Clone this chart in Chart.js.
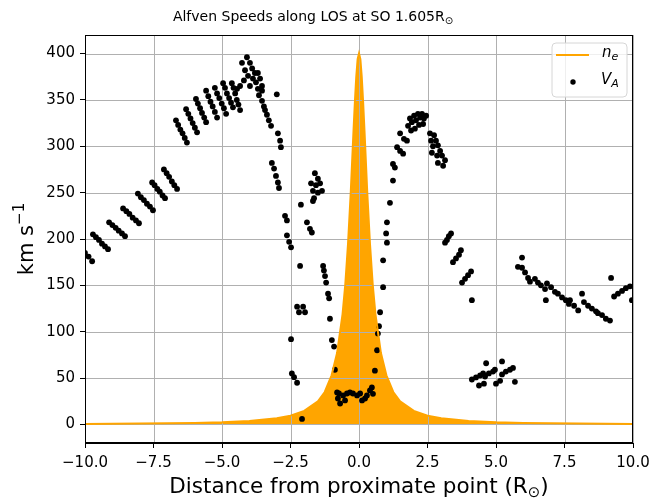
<!DOCTYPE html>
<html>
<head>
<meta charset="utf-8">
<script src="https://cdn.jsdelivr.net/npm/chart.js@4.4.0/dist/chart.umd.min.js"></script>
<style>
  html, body { margin: 0; padding: 0; background: #fff; }
  #wrap { width: 652px; height: 501px; }
</style>
</head>
<body>
<div id="wrap"><canvas id="myChart" width="652" height="501"></canvas></div>
<script>
// electron density profile along the line of sight (drawn filled, peak at proximate point)
const neX = [-10, -8, -6, -5, -4, -3, -2.5, -2, -1.5, -1.25, -1, -0.8, -0.6, -0.5, -0.4, -0.3, -0.2, -0.15, -0.1, -0.05, 0,
             0.05, 0.1, 0.15, 0.2, 0.3, 0.4, 0.5, 0.6, 0.8, 1, 1.25, 1.5, 2, 2.5, 3, 4, 5, 6, 8, 10];
const neY = [0.6, 1, 1.7, 2.4, 3.8, 6.6, 9.5, 14.7, 25, 35, 53, 77, 119, 151, 195, 251, 317, 348, 375, 394, 400,
             394, 375, 348, 317, 251, 195, 151, 119, 77, 53, 35, 25, 14.7, 9.5, 6.6, 3.8, 2.4, 1.7, 1, 0.6];

// Alfven speed samples (km/s)
const vaX = [
  -10.0, -9.87, -9.74,
  -9.71, -9.6, -9.49, -9.38, -9.27, -9.16,
  -9.12, -9.0, -8.88, -8.77, -8.65, -8.54,
  -8.61, -8.49, -8.38, -8.26, -8.14, -8.03,
  -8.07, -7.96, -7.85, -7.74, -7.63, -7.52,
  -7.55, -7.46, -7.36, -7.27, -7.17, -7.08,
  -7.12, -7.02, -6.93, -6.83, -6.74, -6.64,
  -6.68, -6.6, -6.52, -6.44, -6.36, -6.28,
  -6.31, -6.23, -6.15, -6.07, -5.99, -5.91,
  -5.95, -5.88, -5.8, -5.73, -5.65, -5.58,
  -5.58, -5.5, -5.42, -5.34, -5.26, -5.18,
  -5.26, -5.18, -5.1, -5.01, -4.93, -4.85,
  -4.96, -4.89, -4.82, -4.74, -4.67, -4.6,
  -4.64, -4.58, -4.52, -4.46, -4.4, -4.34,
  -4.09, -4.27, -3.98, -4.16, -3.9, -3.8, -3.69, -4.05, -3.87, -3.61, -4.2, -3.76, -3.54, -3.98, -3.69, -4.34, -3.54, -3.65, -4.45,
  -3.54, -3.47, -3.43, -3.36, -3.29, -3.21,
  -3.0, -2.96, -2.88, -2.85,
  -3.18, -3.1, -3.03, -2.96, -2.92,
  -2.7, -2.63, -2.63, -2.55, -2.48, -2.15, -2.48, -2.45, -2.37, -2.26, -2.08,
  -2.26, -2.19, -2.04, -1.97,
  -2.12, -1.9, -1.79, -1.72,
  -1.61, -1.5, -1.75, -1.57, -1.42, -1.68, -1.5, -1.35, -1.64, -1.68,
  -1.31, -1.28, -1.24, -1.2, -1.13, -1.09, -1.06, -0.99, -0.91, -0.88,
  -0.8, -0.77, -0.69, -0.58, -0.44, -0.33, -0.22, -0.07, 0.04, 0.11, 0.22, 0.29, 0.4, 0.47, -0.73, -0.51,
  0.51, 0.58, 0.66, 0.69, 0.73, 0.77, 0.88, 0.88, 1.02, 0.99, 1.02, 1.13, 1.24, 1.31,
  1.24, 1.39, 1.5, 1.61, 1.5, 1.64, 1.75,
  1.79, 1.86, 1.93, 2.01, 2.08, 2.15, 2.23, 2.3, 2.37, 2.45, 2.04, 2.19, 2.34, 1.9,
  2.59, 2.74, 2.63, 2.81, 2.7, 2.88, 2.66, 2.96, 2.85, 3.03, 2.88, 3.14, 3.07,
  3.14, 3.21, 3.28, 3.36,
  3.43, 3.54, 3.65, 3.72,
  3.76, 3.87, 3.98, 4.09,
  4.12,
  4.12, 4.27, 4.42, 4.53, 4.38, 4.56,
  4.6, 4.74, 4.89, 4.96, 4.64,
  5.0, 5.15,
  5.22, 5.36, 5.51, 5.62, 5.22, 5.69,
  5.95, 5.8,
  5.95, 6.06, 6.17, 6.24,
  6.42, 6.53, 6.64, 6.79,
  6.86, 7.01, 7.15, 6.82,
  7.26, 7.41, 7.55, 7.66,
  7.7, 7.85, 8.0, 8.14,
  8.21, 8.36, 8.5, 8.65,
  8.72, 8.87, 9.01, 9.16,
  9.2,
  9.31, 9.45, 9.6, 9.74, 9.89,
  9.96
];
const vaY = [
  185, 181, 176,
  205, 202, 199, 195, 192, 189,
  218, 215, 212, 209, 206, 203,
  233, 230, 227, 223, 220, 217,
  249, 245, 242, 238, 235, 231,
  261, 258, 254, 251, 247, 244,
  275, 271, 267, 262, 258, 254,
  328, 323, 318, 314, 309, 304,
  340, 335, 330, 325, 320, 315,
  351, 346, 341, 336, 331, 326,
  360, 354, 348, 343, 337, 331,
  363, 357, 352, 346, 341, 335,
  368, 363, 357, 352, 347, 342,
  368, 363, 357, 350, 345, 339,
  396, 390, 390, 382, 384, 379, 379, 376, 373, 373, 371, 369, 365, 365, 362, 365, 360, 355, 362,
  349, 343, 339, 334, 328, 322,
  356, 314, 306, 299,
  282, 276, 268, 261, 255,
  225, 220, 204, 197, 191, 171, 92, 55, 51, 45, 6,
  127, 121, 127, 121,
  237, 218, 211, 207,
  271, 265, 260, 258, 260, 252, 250, 252, 244, 241,
  171, 166, 160, 153, 141, 136, 114, 91, 84, 59,
  34.5, 28, 22.6, 31.3, 33.4, 34.5, 33.4, 31.3, 33.4, 25.9, 28, 31.3, 36.7, 39.9, 33.4, 25.9,
  33, 58, 80, 98, 106, 121, 148, 177, 196, 206, 218, 239, 263, 277,
  281, 299, 295, 292, 314, 308, 306,
  322, 330, 326, 333, 328, 335, 331, 335, 330, 333, 319, 323, 324, 317,
  314, 312, 306, 306, 300, 301, 293, 295, 290, 290, 282, 285, 279,
  196, 199, 203, 206,
  175, 179, 183, 188,
  153, 157, 161, 165,
  134,
  48.5, 50.7, 52.8, 55, 42, 44,
  51.7, 55, 57, 59, 66,
  44, 47,
  54, 57, 59, 61, 68, 46,
  180, 170,
  169, 164, 158, 154,
  157, 153, 150, 146,
  152, 148, 143, 134,
  141, 137, 134, 130,
  134, 128, 123, 141,
  132, 128, 125, 122,
  120, 118, 114, 112,
  158,
  138, 141, 144, 147, 149,
  134
];

const xTicks = [-10, -7.5, -5, -2.5, 0, 2.5, 5, 7.5, 10];
const yTicks = [0, 50, 100, 150, 200, 250, 300, 350, 400];

const FONT = "'DejaVu Sans', sans-serif";
const ORANGE = '#ffa500';

Chart.defaults.font.family = FONT;
Chart.defaults.color = '#000';

const nePoints = neX.map((x, i) => ({ x: x, y: neY[i] }));
const vaPoints = vaX.map((x, i) => ({ x: x, y: vaY[i] }));

function fmtTick(v, digits) {
    return v.toFixed(digits).replace('-', '\u2212');
}

// text with a smaller lowered/raised part, e.g. R + sub(⊙)
function drawRich(ctx, parts, x, y, align) {
    let total = 0;
    parts.forEach(p => {
        ctx.font = p.font;
        total += ctx.measureText(p.text).width;
    });
    let cx = align === 'center' ? x - total / 2 : x;
    parts.forEach(p => {
        ctx.font = p.font;
        ctx.fillText(p.text, cx, y + (p.dy || 0));
        cx += ctx.measureText(p.text).width;
    });
}

const decor = {
    id: 'decor',
    afterDatasetDraw(chart, args) {
        // grid goes over the density fill but under the scatter and the line
        if (args.index !== 0) return;
        const { ctx, chartArea: a, scales } = chart;
        ctx.save();
        ctx.strokeStyle = '#b0b0b0';
        ctx.lineWidth = 1;
        ctx.beginPath();
        xTicks.forEach(v => {
            const px = Math.round(scales.x.getPixelForValue(v)) + 0.5;
            ctx.moveTo(px, a.top);
            ctx.lineTo(px, a.bottom);
        });
        yTicks.forEach(v => {
            const py = Math.round(scales.y.getPixelForValue(v)) + 0.5;
            ctx.moveTo(a.left, py);
            ctx.lineTo(a.right, py);
        });
        ctx.stroke();
        ctx.restore();
    },
    afterDraw(chart) {
        const { ctx, chartArea: a } = chart;
        ctx.save();

        // frame
        ctx.strokeStyle = '#000';
        ctx.lineWidth = 1;
        ctx.strokeRect(a.left + 0.5, a.top + 0.5, a.right - a.left - 1, a.bottom - a.top - 1);

        ctx.fillStyle = '#000';
        ctx.textBaseline = 'middle';
        const cx = (a.left + a.right) / 2;

        // title
        drawRich(ctx, [
            { text: 'Alfven Speeds along LOS at SO 1.605R', font: '14px ' + FONT },
            { text: '\u2299', font: '10px ' + FONT, dy: 4 }
        ], 313, 17, 'center');

        // x axis title
        drawRich(ctx, [
            { text: 'Distance from proximate point (R', font: '21.5px ' + FONT },
            { text: '\u2299', font: '15px ' + FONT, dy: 6 },
            { text: ')', font: '21.5px ' + FONT }
        ], cx, 487, 'center');

        // y axis title
        ctx.save();
        ctx.translate(28, (a.top + a.bottom) / 2);
        ctx.rotate(-Math.PI / 2);
        drawRich(ctx, [
            { text: 'km s', font: '21px ' + FONT },
            { text: '\u22121', font: '15px ' + FONT, dy: -8 }
        ], 0, 0, 'center');
        ctx.restore();

        // legend
        const lx = 552, ly = 43, lw = 75, lh = 54, r = 4;
        ctx.beginPath();
        ctx.moveTo(lx + r, ly);
        ctx.arcTo(lx + lw, ly, lx + lw, ly + lh, r);
        ctx.arcTo(lx + lw, ly + lh, lx, ly + lh, r);
        ctx.arcTo(lx, ly + lh, lx, ly, r);
        ctx.arcTo(lx, ly, lx + lw, ly, r);
        ctx.closePath();
        ctx.fillStyle = 'rgba(255,255,255,0.8)';
        ctx.fill();
        ctx.strokeStyle = '#d6d6d6';
        ctx.stroke();

        ctx.strokeStyle = ORANGE;
        ctx.lineWidth = 2;
        ctx.beginPath();
        ctx.moveTo(556, 55);
        ctx.lineTo(589, 55);
        ctx.stroke();

        ctx.fillStyle = '#000';
        ctx.beginPath();
        ctx.arc(573, 82, 2.7, 0, Math.PI * 2);
        ctx.fill();

        drawRich(ctx, [
            { text: 'n', font: 'italic 15px ' + FONT },
            { text: 'e', font: 'italic 11px ' + FONT, dy: 4 }
        ], 602, 53, 'left');
        drawRich(ctx, [
            { text: 'V', font: 'italic 15px ' + FONT },
            { text: 'A', font: 'italic 11px ' + FONT, dy: 4 }
        ], 601, 80, 'left');

        ctx.restore();
    }
};

const ctx = document.getElementById('myChart');

new Chart(ctx, {
    type: 'scatter',
    data: {
        datasets: [
            {
                type: 'line',
                label: 'ne fill',
                data: nePoints,
                borderWidth: 0,
                pointRadius: 0,
                backgroundColor: ORANGE,
                fill: 'origin',
                order: 3
            },
            {
                label: 'VA',
                data: vaPoints,
                pointRadius: 2.9,
                pointBackgroundColor: '#000',
                pointBorderWidth: 0,
                order: 2
            },
            {
                type: 'line',
                label: 'ne',
                data: nePoints,
                borderColor: ORANGE,
                borderWidth: 2,
                pointRadius: 0,
                fill: false,
                order: 1
            }
        ]
    },
    options: {
        responsive: false,
        animation: false,
        layout: { padding: { top: 35, right: 19, left: 0, bottom: 0 } },
        plugins: {
            legend: { display: false },
            tooltip: { enabled: false },
            title: { display: false }
        },
        scales: {
            x: {
                type: 'linear',
                min: -10,
                max: 10,
                afterBuildTicks: scale => { scale.ticks = xTicks.map(v => ({ value: v })); },
                afterFit: scale => {
                    scale.height = 58;
                    // the end labels may overhang the plot edges
                    scale.paddingLeft = 0;
                    scale.paddingRight = 0;
                },
                ticks: {
                    font: { size: 15 },
                    padding: 6,
                    maxRotation: 0,
                    callback: v => fmtTick(v, 1)
                },
                grid: { drawOnChartArea: false, tickLength: 5, tickColor: '#000' },
                border: { color: '#000', width: 1 }
            },
            y: {
                min: -20,
                max: 420,
                afterBuildTicks: scale => { scale.ticks = yTicks.map(v => ({ value: v })); },
                afterFit: scale => {
                    scale.width = 85;
                    scale.paddingTop = 0;
                    scale.paddingBottom = 0;
                },
                ticks: {
                    font: { size: 15 },
                    padding: 5,
                    callback: v => fmtTick(v, 0)
                },
                grid: { drawOnChartArea: false, tickLength: 5, tickColor: '#000' },
                border: { color: '#000', width: 1 }
            }
        }
    },
    plugins: [decor]
});
</script>
</body>
</html>
